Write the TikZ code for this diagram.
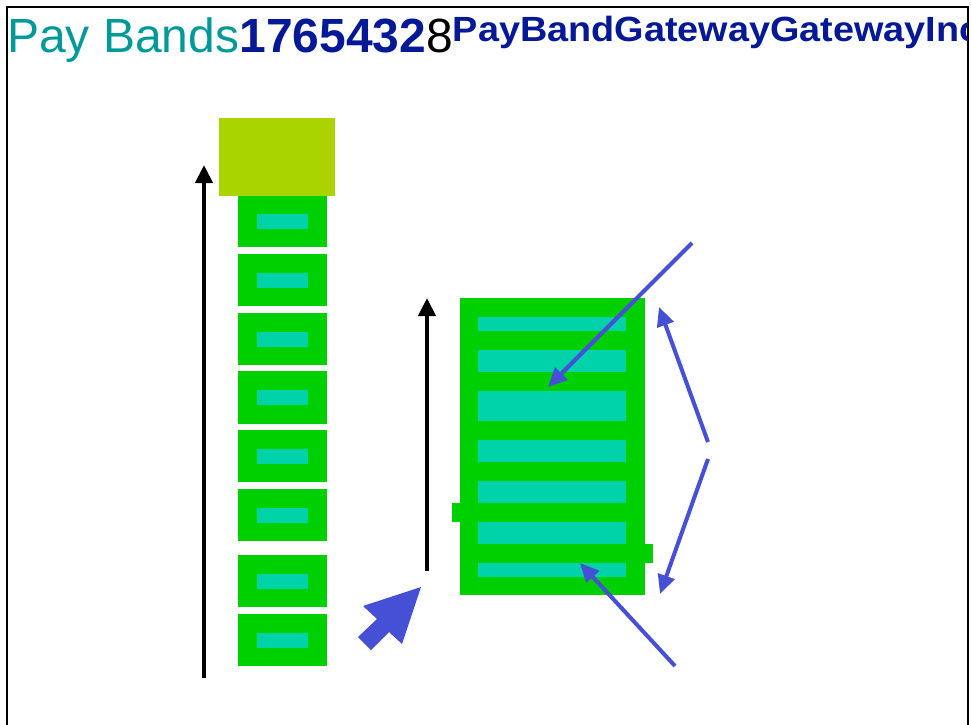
\documentclass[tikz,border=0pt]{standalone}
\usepackage{fontspec}
\setmainfont{Liberation Sans}
\usetikzlibrary{arrows.meta}
\definecolor{bandgreen}{RGB}{0,208,0}
\definecolor{bandteal}{RGB}{0,210,170}
\definecolor{bandyellow}{RGB}{170,212,0}
\definecolor{arrowblue}{RGB}{70,80,215}
\definecolor{titleteal}{RGB}{0,153,153}
\definecolor{titleblue}{RGB}{5,25,150}
\tikzset{
  outerbox/.style={fill=bandgreen, draw=none},
  innerbar/.style={fill=bandteal, draw=none},
  blackarrow/.style={draw=black, line width=4pt, -{Triangle[length=18pt,width=17pt]}},
  bluearrow/.style={draw=arrowblue, line width=4pt, -{Triangle[length=19pt,width=17pt]}},
}
\begin{document}
\begin{tikzpicture}[x=1pt,y=-1pt]
\useasboundingbox (0,0) rectangle (972,724);
\fill[white] (0,0) rectangle (972,724);
% frame
\draw[line width=2pt] (7,730) -- (7,7) -- (968,7) -- (968,730);
% title
\begin{scope}
\clip (8,8) rectangle (967,724);
\node[anchor=base west, inner sep=0pt] (title) at (7,52) {\fontsize{48}{50}\selectfont\color{titleteal}Pay Bands\textbf{\color{titleblue}1765432}\color{black}8\raisebox{11pt}{\scalebox{1.08}[1]{\fontsize{35}{40}\selectfont\bfseries\color{titleblue}PayBandGatewayGatewayInc}}};
\end{scope}
% left column
\fill[bandyellow] (219,118) rectangle (335,196);
\foreach \t/\b [count=\i] in {196/247,254/306,313/365,371/424,430/482,489/541,555/607,614/666}{
  \fill[outerbox] (238,\t) rectangle (327,\b);
  \pgfmathsetmacro{\c}{(\t+\b)/2}
  \fill[innerbar] (257,\c-7.5) rectangle (308,\c+7.5);
}
% right block
\fill[outerbox] (460,298) rectangle (645,595);
\fill[outerbox] (452,503) rectangle (460,522);
\fill[outerbox] (645,544) rectangle (653,563);
\foreach \t/\b in {317/331,350/372,391/421,440/462,481/503,522/544,563/577}{
  \fill[innerbar] (478,\t) rectangle (626,\b);
}
% black arrows
\coordinate (la0) at (204,678);
\coordinate (la1) at (204,165);
\draw[blackarrow] (la0) -- (la1);
\coordinate (ma0) at (427,571);
\coordinate (ma1) at (427,298);
\draw[blackarrow] (ma0) -- (ma1);
% blue block arrow
\fill[arrowblue] (421,587) -- (402,644) -- (389,632) -- (371,650) -- (358,637) -- (377,619) -- (363,606) -- cycle;
% blue thin arrows
\coordinate (a0) at (692,243);
\coordinate (a1) at (548,387);
\draw[bluearrow] (a0) -- (a1);
\coordinate (b0) at (675,666);
\coordinate (b1) at (580,563);
\draw[bluearrow] (b0) -- (b1);
\coordinate (c0) at (708,442);
\coordinate (c1) at (659,307);
\draw[bluearrow] (c0) -- (c1);
\coordinate (d0) at (708,459);
\coordinate (d1) at (660,594);
\draw[bluearrow] (d0) -- (d1);
\end{tikzpicture}
\end{document}
